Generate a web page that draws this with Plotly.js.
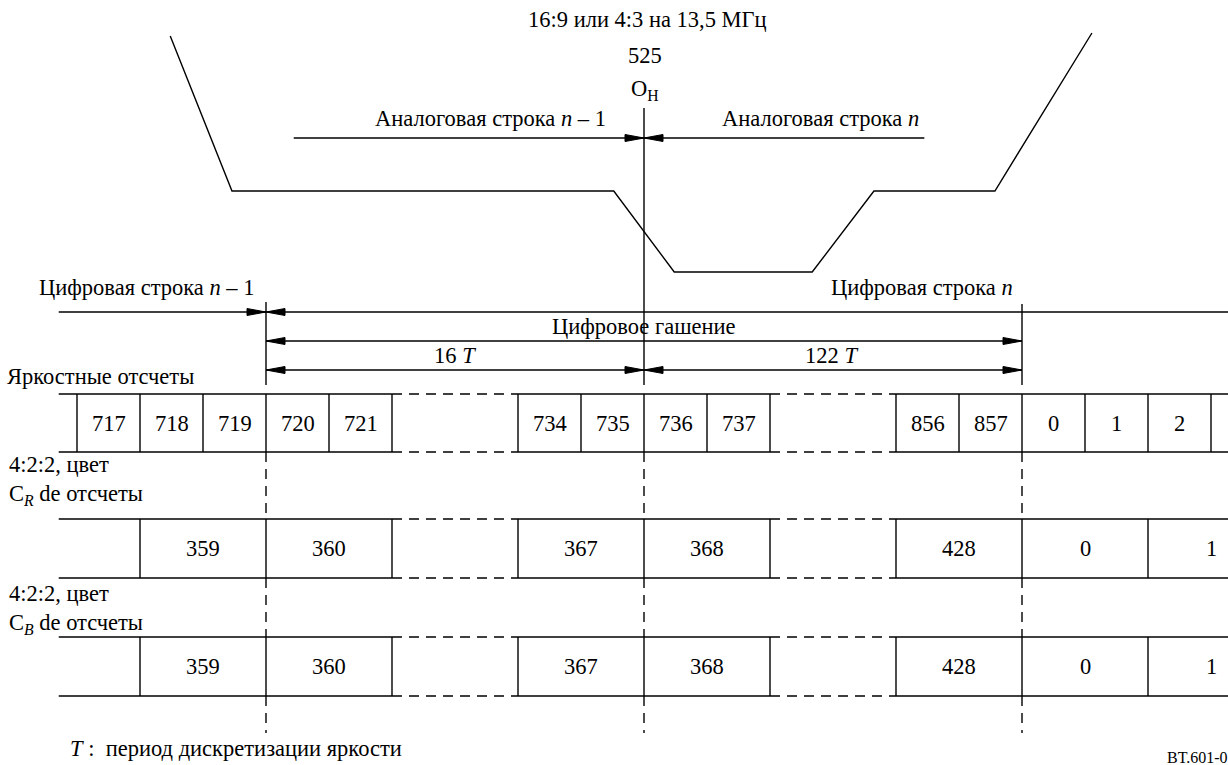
<!DOCTYPE html>
<html><head><meta charset="utf-8">
<script src="https://cdn.plot.ly/plotly-3.0.1.min.js"></script>
<style>html,body{margin:0;padding:0;background:#fff}#chart{width:1228px;height:765px}</style>
</head><body><div id="chart"></div>
<script>
// ---- data (x: luma-sample slots relative to O_H; y: diagram level from top) ----
const lumaLabels   = ['717','718','719','720','721','734','735','736','737','856','857','0','1','2'];
const lumaSlots    = [-9,-8,-7,-6,-5,-2,-1,0,1,4,5,6,7,8];
const chromaLabels = ['359','360','367','368','428','0','1'];
const chromaSlots  = [-8,-6,-2,0,4,6,8];
const breakFrom    = [-4, 2];
const breakTo      = [-2, 4];
const markerSlots  = [-6, 0, 6];
const rowNames     = ['luma','cr','cb'];
const rowTop       = [394, 519, 637];
const rowBottom    = [452, 578, 696];
const waveX = [-7.52,-6.54,-0.48,0.48,2.67,3.65,5.57,7.11];
const waveY = [36,191,191,272,272,191,191,33];
// dimension lines: y, from, to, arrow at start, arrow at end
const dimY     = [138, 138, 312, 312, 341, 370, 370];
const dimFrom  = [-5.56, 0, -9.29, -6, -6, -6, 0];
const dimTo    = [0, 4.45, -6, 9.6, 6, 0, 6];
const dimStart = [false, true, false, true, true, true, true];
const dimEnd   = [true, false, true, false, true, true, true];
// marker vertical solid line tops
const markerTop = [302, 108, 304];
// text labels
const textItems = [
  {t:'16:9 или 4:3 на 13,5 МГц', x:0.05, y:19, a:'center'},
  {t:'525', x:0.02, y:55, a:'center'},
  {t:'O<sub>H</sub>', x:0.02, y:90, a:'center'},
  {t:'Аналоговая строка <i>n</i> – 1', x:-2.43, y:118, a:'center'},
  {t:'Аналоговая строка <i>n</i>', x:2.8, y:118, a:'center'},
  {t:'Цифровая строка <i>n</i> – 1', x:-7.9, y:287, a:'center'},
  {t:'Цифровая строка <i>n</i>', x:4.42, y:287, a:'center'},
  {t:'Цифровое гашение', x:0, y:326, a:'center'},
  {t:'16 <i>T</i>', x:-3.0, y:355, a:'center'},
  {t:'122 <i>T</i>', x:2.97, y:355, a:'center'},
  {t:'Яркостные отсчеты', x:-10.14, y:376, a:'left'},
  {t:'4:2:2, цвет<br>C<sub><i>R</i></sub> de отсчеты', x:-10.11, y:480, a:'left'},
  {t:'4:2:2, цвет<br>C<sub><i>B</i></sub> de отсчеты', x:-10.11, y:609, a:'left'},
  {t:'<i>T</i> :  период дискретизации яркости', x:-9.15, y:748, a:'left'}
];
const footTag = 'BT.601-0';

// ---- layout constants ----
const X0 = -644/63, X1 = (1228-644)/63;
const xLeft = -9.29, xRight = 9.6;
const pxX = 63; // px per slot

const solidX = [], solidY = [], dashX = [], dashY = [];
function seg(ax, ay, bx, by, dashed){
  const X = dashed ? dashX : solidX, Y = dashed ? dashY : solidY;
  X.push(ax, bx, null); Y.push(ay, by, null);
}
// rows
rowNames.forEach((r,i)=>{
  [rowTop[i], rowBottom[i]].forEach(y=>{
    seg(xLeft, y, breakFrom[0], y, false);
    seg(breakTo[0], y, breakFrom[1], y, false);
    seg(breakTo[1], y, xRight, y, false);
    seg(breakFrom[0], y, breakTo[0], y, true);
    seg(breakFrom[1], y, breakTo[1], y, true);
  });
  const slots = i===0 ? lumaSlots : chromaSlots;
  const w = i===0 ? 1 : 2;
  const edges = new Set();
  slots.forEach(s=>{edges.add(s); edges.add(s+w);});
  edges.forEach(e=>seg(e, rowTop[i], e, rowBottom[i], false));
});
// marker lines
markerSlots.forEach((m,k)=>{
  seg(m, markerTop[k], m, 385, false);
  seg(m, rowBottom[0], m, rowTop[1], true);
  seg(m, rowBottom[1], m, rowTop[2], true);
  seg(m, rowBottom[2], m, 733, true);
});
// dimension lines
dimY.forEach((y,i)=>seg(dimFrom[i], y, dimTo[i], y, false));

const traces = [
  {x:waveX, y:waveY, mode:'lines', line:{color:'#000', width:1.4}, hoverinfo:'skip'},
  {x:solidX, y:solidY, mode:'lines', line:{color:'#000', width:1.4}, hoverinfo:'skip', connectgaps:false},
  {x:dashX, y:dashY, mode:'lines', line:{color:'#000', width:1.4, dash:'10px,7px'}, hoverinfo:'skip', connectgaps:false}
];
// arrowheads
const headLen = 19/pxX, headHalf = 3.5;
function head(x, y, dir){
  traces.push({x:[x, x - dir*headLen, x - dir*headLen, x], y:[y, y-headHalf, y+headHalf, y],
    mode:'lines', fill:'toself', fillcolor:'#000', line:{color:'#000', width:1}, hoverinfo:'skip'});
}
dimY.forEach((y,i)=>{
  const d = dimTo[i] > dimFrom[i] ? 1 : -1;
  if(dimEnd[i]) head(dimTo[i], y, d);
  if(dimStart[i]) head(dimFrom[i], y, -d);
});

const font = {family:'Liberation Serif', size:22.5, color:'#000'};
const annotations = [];
lumaLabels.forEach((l,i)=>annotations.push({x:lumaSlots[i]+0.5, y:(rowTop[0]+rowBottom[0])/2, text:l, showarrow:false, font:font}));
[1,2].forEach(r=>chromaLabels.forEach((l,i)=>annotations.push({x:chromaSlots[i]+1, y:(rowTop[r]+rowBottom[r])/2, text:l, showarrow:false, font:font})));
textItems.forEach(o=>annotations.push({x:o.x, y:o.y, text:o.t, xanchor:o.a, align:'left', yanchor:'middle', showarrow:false, font:font}));
annotations.push({x:(1165-644)/pxX, y:757, text:footTag, xanchor:'left', showarrow:false, font:{family:'Liberation Serif', size:16, color:'#000'}});

const layout = {
  width:1228, height:765, margin:{l:0,r:0,t:0,b:0}, paper_bgcolor:'#fff', plot_bgcolor:'#fff',
  showlegend:false,
  xaxis:{range:[X0, X1], visible:false, fixedrange:true},
  yaxis:{range:[765, 0], visible:false, fixedrange:true},
  annotations:annotations
};
Plotly.newPlot('chart', traces, layout, {staticPlot:true, displayModeBar:false});
</script></body></html>
